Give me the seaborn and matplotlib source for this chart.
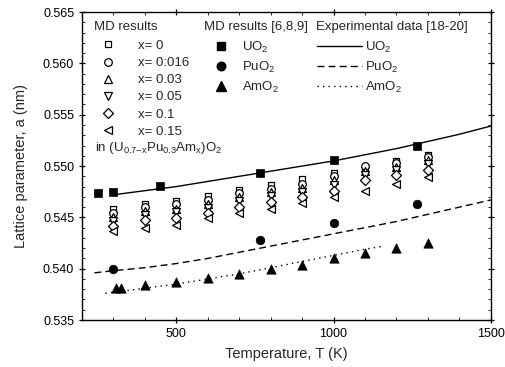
import numpy as np
import pandas as pd
import matplotlib
matplotlib.use("Agg")
import matplotlib.pyplot as plt
from matplotlib.lines import Line2D
from matplotlib.ticker import MultipleLocator, FormatStrFormatter
import seaborn as sns

# ---- MD results for (U0.7-xPu0.3Amx)O2 ----
T_mix = [300, 400, 500, 600, 700, 800, 900, 1000, 1100, 1200, 1300]
a_x0    = [0.5458, 0.5463, 0.5466, 0.5471, 0.5477, 0.5482, 0.5487, 0.5493, 0.5497, 0.5505, 0.5511]
a_x0016 = [0.5454, 0.5460, 0.5463, 0.5467, 0.5474, 0.5478, 0.5483, 0.5490, 0.5500, 0.5503, 0.5509]
a_x003  = [0.5450, 0.5456, 0.5458, 0.5463, 0.5470, 0.5475, 0.5479, 0.5486, 0.5495, 0.5499, 0.5506]
a_x005  = [0.5446, 0.5452, 0.5455, 0.5459, 0.5466, 0.5471, 0.5475, 0.5482, 0.5491, 0.5496, 0.5502]
a_x01   = [0.5442, 0.5447, 0.5449, 0.5454, 0.5460, 0.5465, 0.5470, 0.5476, 0.5486, 0.5491, 0.5496]
a_x015  = [0.5437, 0.5440, 0.5443, 0.5449, 0.5454, 0.5458, 0.5464, 0.5470, 0.5476, 0.5483, 0.5489]
mix_labels = ["x= 0", "x= 0:016", "x= 0.03", "x= 0.05", "x= 0.1", "x= 0.15"]

# ---- MD results [6,8,9] for the pure oxides ----
T_uo2 = [250, 300, 450, 765, 1000, 1265]
a_uo2 = [0.5474, 0.5475, 0.5481, 0.5493, 0.5506, 0.5520]
T_puo2 = [300, 765, 1000, 1265]
a_puo2 = [0.5400, 0.5428, 0.5445, 0.5463]
T_amo2 = [310, 325, 400, 500, 600, 700, 800, 900, 1000, 1100, 1200, 1300]
a_amo2 = [0.5381, 0.5381, 0.5384, 0.5387, 0.5391, 0.5395, 0.5400, 0.5404, 0.5410, 0.5415, 0.5420, 0.5425]

# ---- Experimental data [18-20] ----
T_exp_uo2 = [300, 400, 500, 600, 700, 800, 900, 1000, 1100, 1200, 1300, 1400, 1500]
a_exp_uo2 = [0.5472, 0.5476, 0.5480, 0.5485, 0.5490, 0.5495, 0.5500, 0.5505, 0.5511,
             0.5517, 0.5524, 0.5531, 0.5539]
T_exp_puo2 = [240, 300, 400, 500, 600, 700, 800, 900, 1000, 1100, 1200, 1300, 1400, 1500]
a_exp_puo2 = [0.5396, 0.5398, 0.5401, 0.5405, 0.5410, 0.5416, 0.5422, 0.5428, 0.5434,
              0.5440, 0.5446, 0.5453, 0.5460, 0.5467]
T_exp_amo2 = [275, 300, 400, 500, 600, 700, 800, 900, 1000, 1100, 1160]
a_exp_amo2 = [0.5376, 0.5377, 0.5381, 0.5385, 0.5390, 0.5395, 0.5401, 0.5407, 0.5413,
              0.5419, 0.5422]

pure_labels = ["UO$_2$", "PuO$_2$", "AmO$_2$"]

sns.set_theme(style="ticks")
plt.rcParams["font.family"] = ["Liberation Sans", "DejaVu Sans"]
plt.rcParams["mathtext.fontset"] = "custom"
plt.rcParams["mathtext.rm"] = "Liberation Sans"
plt.rcParams["mathtext.it"] = "Liberation Sans:italic"
plt.rcParams["mathtext.bf"] = "Liberation Sans:bold"

fig = plt.figure(figsize=(5.05, 3.67), dpi=100)
ax = fig.add_axes([0.162, 0.128, 0.81, 0.839])

# experimental curves
exp_styles = [("-", T_exp_uo2, a_exp_uo2), ((0, (5, 3)), T_exp_puo2, a_exp_puo2),
              ((0, (1, 3)), T_exp_amo2, a_exp_amo2)]
for ls, tt, aa in exp_styles:
    df = pd.DataFrame({"T": tt, "a": aa})
    sns.lineplot(data=df, x="T", y="a", ax=ax, color="black", lw=1.0,
                 linestyle=ls, legend=False)

# mixed-oxide MD points (open markers)
mix_series = [a_x0, a_x0016, a_x003, a_x005, a_x01, a_x015]
mix_markers = ["s", "o", "^", "v", "D", "<"]
mix_sizes = [24, 30, 32, 32, 26, 32]
for vals, mk, sz in zip(mix_series, mix_markers, mix_sizes):
    df = pd.DataFrame({"T": T_mix, "a": vals})
    sns.scatterplot(data=df, x="T", y="a", ax=ax, marker=mk, s=sz,
                    facecolor="white", edgecolor="black", linewidth=0.9,
                    legend=False, zorder=3)

# pure-oxide MD points (filled markers)
pure_markers = [("s", 30), ("o", 38), ("^", 45)]
for (tt, aa), (mk, sz) in zip([(T_uo2, a_uo2), (T_puo2, a_puo2), (T_amo2, a_amo2)],
                              pure_markers):
    df = pd.DataFrame({"T": tt, "a": aa})
    sns.scatterplot(data=df, x="T", y="a", ax=ax, marker=mk, s=sz,
                    color="black", edgecolor="black", linewidth=0.5,
                    legend=False, zorder=4)

ax.set_xlim(200, 1500)
ax.set_ylim(0.535, 0.565)
ax.xaxis.set_major_locator(MultipleLocator(500))
ax.xaxis.set_minor_locator(MultipleLocator(100))
ax.yaxis.set_major_locator(MultipleLocator(0.005))
ax.yaxis.set_minor_locator(MultipleLocator(0.001))
ax.yaxis.set_major_formatter(FormatStrFormatter("%.3f"))
ax.tick_params(which="major", direction="inout", length=5, width=0.9,
               top=True, right=True, labelsize=9, colors="black", pad=3)
ax.tick_params(which="minor", direction="in", length=2.5, width=0.7,
               top=True, right=True)
for sp in ax.spines.values():
    sp.set_linewidth(1.0)
    sp.set_color("black")
ax.set_xlabel("Temperature, T (K)", fontsize=10.5, labelpad=5)
ax.set_ylabel("Lattice parameter, a (nm)", fontsize=10.5, labelpad=11)

# legends
fs = 9.5
common = dict(frameon=False, fontsize=fs, borderpad=0, borderaxespad=0,
              labelspacing=0.37, handlelength=1.2)
h1 = [Line2D([], [], ls="none", marker=m, ms=np.sqrt(s), mfc="white", mec="black", mew=0.9)
      for m, s in zip(mix_markers, mix_sizes)]
leg1 = ax.legend(h1, mix_labels, loc="upper left", bbox_to_anchor=(0.045, 0.91),
                 bbox_transform=ax.transAxes, handletextpad=1.7, **common)
ax.add_artist(leg1)

h2 = [Line2D([], [], ls="none", marker=m, ms=np.sqrt(s), color="black")
      for m, s in pure_markers]
leg2 = ax.legend(h2, pure_labels, loc="upper left", bbox_to_anchor=(0.32, 0.91),
                 bbox_transform=ax.transAxes, handletextpad=1.0, **common)
ax.add_artist(leg2)

h3 = [Line2D([], [], color="black", lw=1.0, ls=ls) for ls, _, _ in exp_styles]
common3 = dict(common)
common3.update(handlelength=3.4)
ax.legend(h3, pure_labels, loc="upper left", bbox_to_anchor=(0.575, 0.91),
          bbox_transform=ax.transAxes, handletextpad=0.2, **common3)

ax.text(0.031, 0.972, "MD results", transform=ax.transAxes, fontsize=fs, va="top")
ax.text(0.298, 0.972, "MD results [6,8,9]", transform=ax.transAxes, fontsize=fs, va="top")
ax.text(0.572, 0.972, "Experimental data [18-20]", transform=ax.transAxes, fontsize=fs, va="top")
ax.text(0.033, 0.56, r"in (U$_{0.7\mathrm{-x}}$Pu$_{0.3}$Am$_{\mathrm{x}}$)O$_2$",
        transform=ax.transAxes, fontsize=fs, va="center")

fig.savefig("out.png", dpi=100)
